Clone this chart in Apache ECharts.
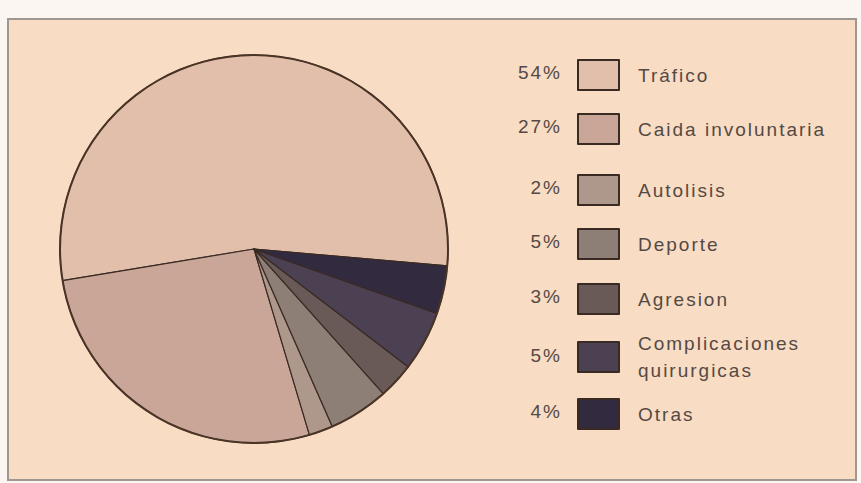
<!DOCTYPE html>
<html><head><meta charset="utf-8">
<script src="https://cdn.jsdelivr.net/npm/echarts@6/dist/echarts.min.js"></script>
<style>html,body{margin:0;padding:0;background:#fbf6f1}#c{width:861px;height:483px}#c text{letter-spacing:2px}</style>
</head><body><div id="c"></div>
<script>
var categories = ['Tráfico', 'Caida involuntaria', 'Autolisis', 'Deporte', 'Agresion', 'Complicaciones\nquirurgicas', 'Otras'];
var values = [54, 27, 2, 5, 3, 5, 4];
var percentLabels = ['54%', '27%', '2%', '5%', '3%', '5%', '4%'];
var colors = ['#e2bfab', '#c9a698', '#ae978b', '#8e7f76', '#6a5a57', '#4b4152', '#322b40'];

// layout (row centres of the key)
var rowY = [74, 128, 189, 243, 298, 357, 413];
var textColor = '#554944';
var fontFam = 'Liberation Sans, Arial, sans-serif';
var fs = 19;

var chart = echarts.init(document.getElementById('c'), null, { renderer: 'svg' });
var legends = categories.map(function (name, i) {
  var twoLine = name.indexOf('\n') >= 0;
  return {
    orient: 'vertical',
    left: 577,
    top: rowY[i] - 15 - (twoLine ? 12 : 0),
    padding: 0,
    itemWidth: 41,
    itemHeight: 30,
    icon: 'rect',
    selectedMode: false,
    data: [name],
    textStyle: { fontSize: fs, color: textColor, fontFamily: fontFam, lineHeight: 27, padding: [0, 0, 0, 14] }
  };
});
var graphics = [{
  type: 'rect', left: 7, top: 18, z: -10,
  shape: { width: 848, height: 461 },
  style: { fill: '#f8dcc4', stroke: '#a09890', lineWidth: 2 }
}];
percentLabels.forEach(function (p, i) {
  graphics.push({
    type: 'text', right: 861 - 562, top: rowY[i] - 11,
    style: { text: p, fontSize: fs, fill: textColor, font: fs + 'px ' + fontFam, textAlign: 'right' }
  });
});
chart.setOption({
  backgroundColor: '#fbf6f1',
  animation: false,
  color: colors,
  graphic: graphics,
  legend: legends,
  series: [{
    type: 'pie',
    center: [254, 249],
    radius: 194,
    startAngle: -5,
    clockwise: false,
    label: { show: false },
    labelLine: { show: false },
    emphasis: { disabled: true },
    itemStyle: { borderColor: '#3a2a24', borderWidth: 1.2 },
    data: categories.map(function (n, i) { return { name: n, value: values[i] }; })
  }, {
    type: 'pie', silent: true,
    center: [254, 249],
    radius: [193, 195],
    label: { show: false }, labelLine: { show: false },
    itemStyle: { color: '#4a3426' },
    data: [{ value: 1, name: '' }]
  }]
});
</script></body></html>
